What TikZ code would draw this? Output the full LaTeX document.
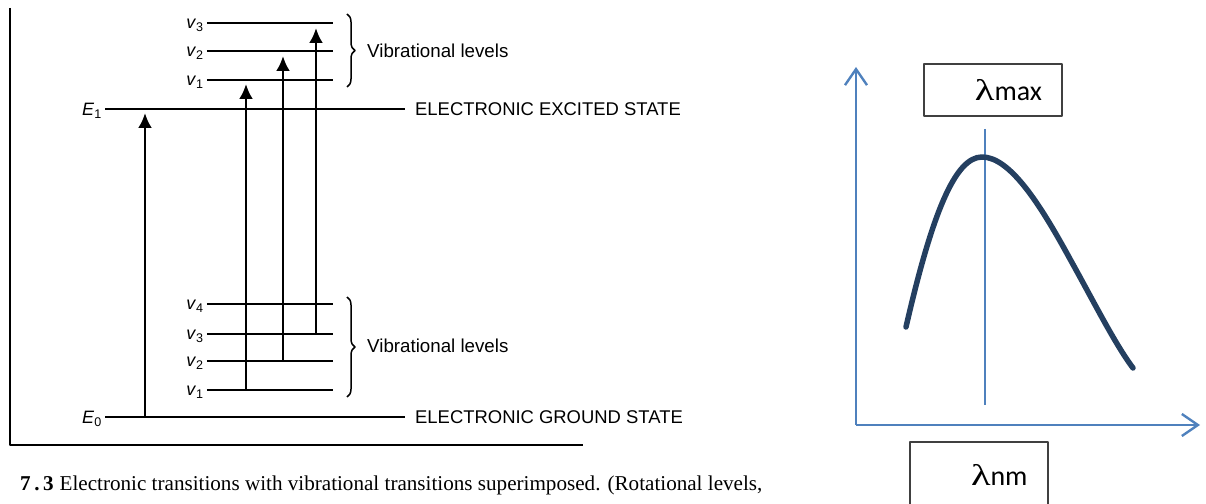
\documentclass[tikz,border=0pt]{standalone}
\usepackage{fontspec}
\setmainfont{Liberation Sans}
\newfontfamily\capfont{Liberation Serif}
\newfontfamily\plotfont{Carlito}
\usepackage{tikz}
\usetikzlibrary{arrows,arrows.meta,decorations.pathreplacing,positioning}
\definecolor{axisblue}{RGB}{79,129,189}
\definecolor{curvenavy}{RGB}{36,63,96}
\definecolor{boxgray}{RGB}{64,64,64}
\newcommand{\widelambda}{{\capfont\fontsize{30}{32}\selectfont\scalebox{1.35}[1]{λ}}}
\tikzset{
  lbl/.style={inner sep=3bp,font=\fontsize{18}{21}\selectfont},
  statelbl/.style={anchor=west,inner xsep=10bp,inner ysep=2bp,font=\fontsize{18.5}{22}\selectfont},
  viblbl/.style={anchor=west,inner sep=0pt,font=\fontsize{18.8}{22}\selectfont},
  level/.style={line width=1.8bp},
  trans/.style={->,line width=2.8bp},
  vbrace/.style={decorate,decoration={brace,amplitude=8bp},line width=1.5bp},
  axis/.style={draw=axisblue,line width=2.4bp,-{Straight Barb[length=16bp,width=22bp]}},
  plotbox/.style={draw=boxgray,line width=1.4bp,font=\plotfont\fontsize{28}{32}\selectfont,
    align=right,minimum width=138bp},
}
\begin{document}
\begin{tikzpicture}[>={Latex[length=15bp,width=14bp]},line join=bevel]
\useasboundingbox (0,0) rectangle (1206bp,504bp);
%%
\draw [level] (10bp,496bp) -- (10bp,59bp) -- (583bp,59bp);
\node (E1) at (92bp,393bp) [lbl] {\textit{E}\textsubscript{1}};
  \node (E0) at (92bp,85bp) [lbl] {\textit{E}\textsubscript{0}};
  \node (exc) at (405bp,395bp) [statelbl] {ELECTRONIC EXCITED STATE};
  \node (gnd) at (405bp,87bp) [statelbl] {ELECTRONIC GROUND STATE};
  \draw [level] (E1.east |- exc.west) -- (exc.west);
  \draw [level] (E0.east |- gnd.west) -- (gnd.west);
%% upper vibrational levels
\node (uv3) at (195bp,479bp) [lbl] {\textit{v}\textsubscript{3}};
  \node (uv2) at (195bp,451bp) [lbl] {\textit{v}\textsubscript{2}};
  \node (uv1) at (195bp,422bp) [lbl] {\textit{v}\textsubscript{1}};
  \coordinate (uv3e) at (333bp,481bp);
  \coordinate (uv2e) at (333bp,453bp);
  \coordinate (uv1e) at (333bp,424bp);
  \draw [level] (uv3.east |- uv3e) -- (uv3e);
  \draw [level] (uv2.east |- uv2e) -- (uv2e);
  \draw [level] (uv1.east |- uv1e) -- (uv1e);
%% lower vibrational levels
\node (lv4) at (195bp,198bp) [lbl] {\textit{v}\textsubscript{4}};
  \node (lv3) at (195bp,168bp) [lbl] {\textit{v}\textsubscript{3}};
  \node (lv2) at (195bp,141bp) [lbl] {\textit{v}\textsubscript{2}};
  \node (lv1) at (195bp,112bp) [lbl] {\textit{v}\textsubscript{1}};
  \coordinate (lv4e) at (333bp,200bp);
  \coordinate (lv3e) at (333bp,170bp);
  \coordinate (lv2e) at (333bp,143bp);
  \coordinate (lv1e) at (333bp,114bp);
  \draw [level] (lv4.east |- lv4e) -- (lv4e);
  \draw [level] (lv3.east |- lv3e) -- (lv3e);
  \draw [level] (lv2.east |- lv2e) -- (lv2e);
  \draw [level] (lv1.east |- lv1e) -- (lv1e);
%% braces
\draw [vbrace] (347bp,490bp) -- (347bp,417bp);
  \node (uvib) at (367bp,453bp) [viblbl] {Vibrational levels};
  \draw [vbrace] (347bp,207bp) -- (347bp,107bp);
  \node (lvib) at (367bp,158bp) [viblbl] {Vibrational levels};
%% transitions
\coordinate (t0s) at (145bp,87bp);
  \coordinate (t0e) at (145bp,391bp);
  \coordinate (t1s) at (246bp,114bp);
  \coordinate (t1e) at (246bp,420bp);
  \coordinate (t2s) at (283bp,143bp);
  \coordinate (t2e) at (283bp,448bp);
  \coordinate (t3s) at (316bp,170bp);
  \coordinate (t3e) at (316bp,476bp);
  \draw [trans] (t0s) -- (t0e);
  \draw [trans] (t1s) -- (t1e);
  \draw [trans] (t2s) -- (t2e);
  \draw [trans] (t3s) -- (t3e);
%% caption
\node (cap) at (20bp,14bp) [anchor=base west,inner sep=0pt,font=\capfont\fontsize{21.2}{25}\selectfont]
  {\textbf{7\,.\,3}\hspace{6bp}Electronic transitions with vibrational transitions superimposed. (Rotational levels,};
%% absorption band
\coordinate (orig) at (856bp,79bp);
  \coordinate (ytip) at (856bp,437bp);
  \coordinate (xtip) at (1200bp,79bp);
  \draw [axis] (orig) -- (ytip);
  \draw [axis] (orig) -- (xtip);
  \node (lmax) at (993bp,414bp) [plotbox,text width=98bp,inner xsep=20bp,minimum height=52bp] {\widelambda max};
  \node (lnm) at (979bp,29bp) [plotbox,text width=97bp,inner xsep=20.5bp,minimum height=66bp] {\widelambda nm};
  \coordinate (pk) at (985bp,375bp);
  \coordinate (pkb) at (985bp,99bp);
  \draw [axisblue,line width=1.3bp] (pk) -- (pkb);
  \draw [curvenavy,line width=5.5bp,line cap=round] (906bp,177bp) .. controls (932bp,290bp) and (955bp,347bp) .. (982bp,347bp)
    .. controls (1010bp,347bp) and (1040bp,300bp) .. (1070bp,245bp)
    .. controls (1095bp,200bp) and (1115bp,160bp) .. (1133bp,136bp);
%
\end{tikzpicture}
\end{document}
